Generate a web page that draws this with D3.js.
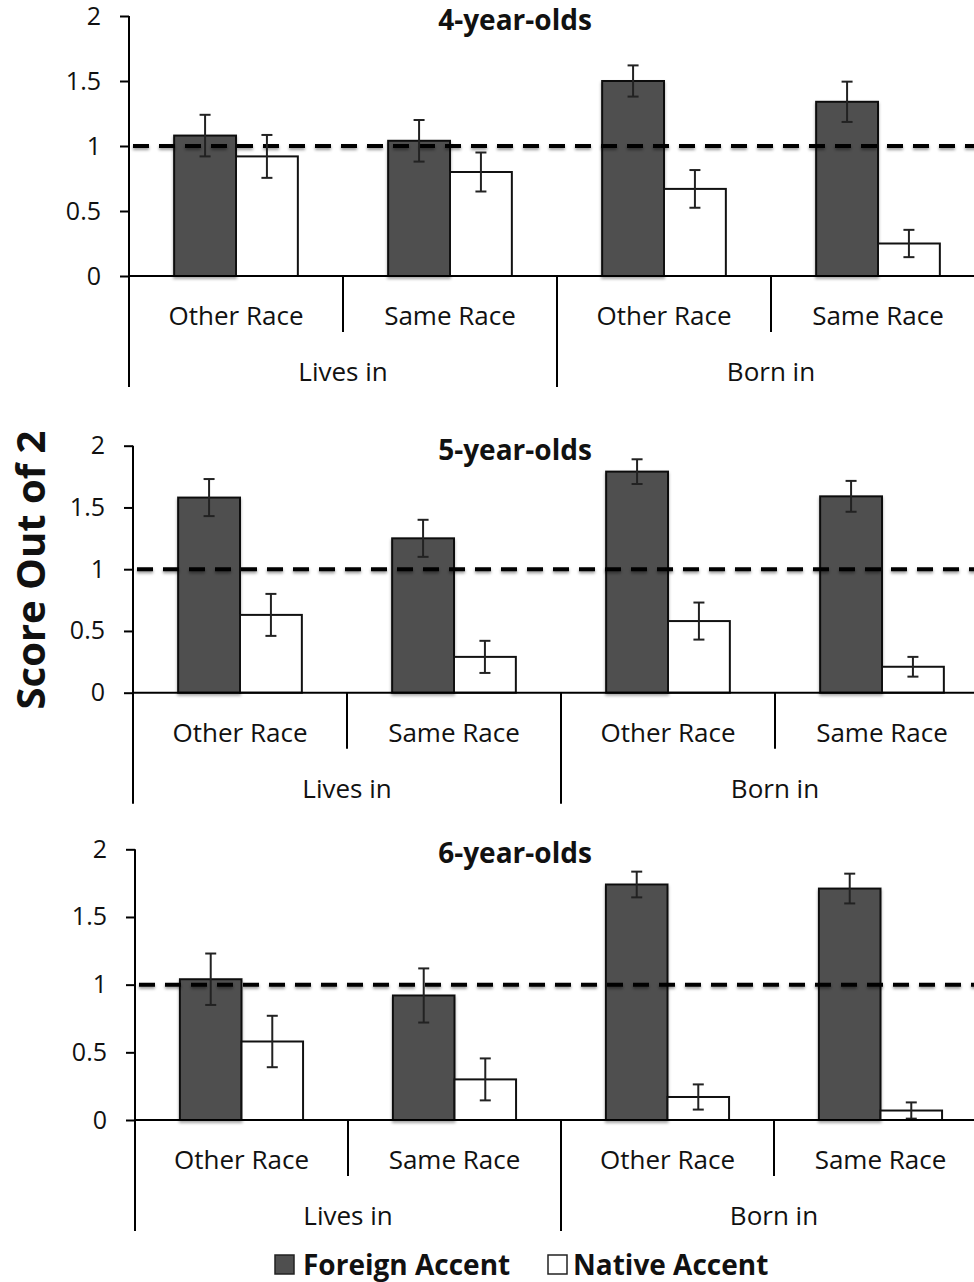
<!DOCTYPE html>
<html>
<head>
<meta charset="utf-8">
<script src="https://cdnjs.cloudflare.com/ajax/libs/d3/7.8.5/d3.min.js"></script>
<style>
  body { margin: 0; background: #fff; }
  svg { display: block; }
</style>
</head>
<body>
<div id="chart"></div>
<script>
// categories and labels
const categories = ["Other Race", "Same Race", "Other Race", "Same Race"];
const groups = ["Lives in", "Born in"];
const ageTitles = ["4-year-olds", "5-year-olds", "6-year-olds"];
const series = ["Foreign Accent", "Native Accent"];
const yTicks = [0, 0.5, 1, 1.5, 2];
const chance = 1;

// values (mean, +/- error)
const foreign4 = [1.08, 1.04, 1.50, 1.34];
const foreignErr4 = [0.16, 0.16, 0.12, 0.155];
const native4 = [0.92, 0.80, 0.67, 0.25];
const nativeErr4 = [0.165, 0.15, 0.145, 0.105];

const foreign5 = [1.58, 1.25, 1.79, 1.59];
const foreignErr5 = [0.15, 0.15, 0.10, 0.125];
const native5 = [0.63, 0.29, 0.58, 0.21];
const nativeErr5 = [0.17, 0.13, 0.15, 0.08];

const foreign6 = [1.04, 0.92, 1.74, 1.71];
const foreignErr6 = [0.19, 0.20, 0.095, 0.11];
const native6 = [0.58, 0.30, 0.17, 0.07];
const nativeErr6 = [0.19, 0.155, 0.093, 0.06];

const W = 974, H = 1282;
const fillColor = {"Foreign Accent": "#4f4f4f", "Native Accent": "#ffffff"};
const font = "'Open Sans', 'Noto Sans', sans-serif";

// panel placement (layout only)
const panels = [
  {x: 129, y0: 276, y2: 16, step: 214, foreign: foreign4, fErr: foreignErr4, native: native4, nErr: nativeErr4},
  {x: 133, y0: 692.7, y2: 445.7, step: 214, foreign: foreign5, fErr: foreignErr5, native: native5, nErr: nativeErr5},
  {x: 135, y0: 1120, y2: 849.3, step: 213, foreign: foreign6, fErr: foreignErr6, native: native6, nErr: nativeErr6}
];

const svg = d3.select("#chart").append("svg")
  .attr("width", W)
  .attr("height", H)
  .style("font-family", font);

const defs = svg.append("defs");
const shadow = defs.append("filter").attr("id", "shadow")
  .attr("x", "-10%").attr("y", "-10%").attr("width", "130%").attr("height", "130%");
shadow.append("feDropShadow")
  .attr("dx", 0).attr("dy", 2).attr("stdDeviation", 1.8)
  .attr("flood-color", "#000").attr("flood-opacity", 0.35);

// line has a zero-height box, so its filter works in user space
const lineShadow = defs.append("filter").attr("id", "lineShadow")
  .attr("filterUnits", "userSpaceOnUse")
  .attr("x", 0).attr("y", 0).attr("width", W + 20).attr("height", H);
lineShadow.append("feDropShadow")
  .attr("dx", 0).attr("dy", 2).attr("stdDeviation", 1.8)
  .attr("flood-color", "#000").attr("flood-opacity", 0.4);

panels.forEach(function(p, pi) {
  const g = svg.append("g");

  const x = d3.scaleBand()
    .domain(d3.range(categories.length))
    .range([p.x, p.x + p.step * categories.length])
    .paddingInner(0).paddingOuter(0);

  const xs = d3.scaleBand()
    .domain(series)
    .range([0, x.bandwidth()])
    .paddingInner(0)
    .paddingOuter(0.73);

  const y = d3.scaleLinear().domain([0, 2]).range([p.y0, p.y2]);

  const rows = [];
  categories.forEach(function(c, i) {
    rows.push({i: i, s: series[0], v: p.foreign[i], e: p.fErr[i]});
    rows.push({i: i, s: series[1], v: p.native[i], e: p.nErr[i]});
  });

  // bars
  g.selectAll("rect.bar")
    .data(rows)
    .enter()
    .append("rect")
    .attr("class", "bar")
    .attr("x", d => x(d.i) + xs(d.s))
    .attr("y", d => y(d.v))
    .attr("width", xs.bandwidth())
    .attr("height", d => y(0) - y(d.v))
    .attr("fill", d => fillColor[d.s])
    .attr("stroke", "#111")
    .attr("stroke-width", 2)
    .attr("filter", d => d.s === series[0] ? "url(#shadow)" : null);

  // chance line
  g.append("line")
    .attr("x1", p.x + 4)
    .attr("x2", W + 10)
    .attr("y1", y(chance))
    .attr("y2", y(chance))
    .attr("stroke", "#000")
    .attr("stroke-width", 4)
    .attr("stroke-dasharray", "16,10")
    .attr("filter", "url(#lineShadow)");

  // error bars
  const eb = g.selectAll("g.err")
    .data(rows)
    .enter()
    .append("g")
    .attr("class", "err")
    .attr("stroke", "#222")
    .attr("stroke-width", 2);
  eb.append("line")
    .attr("x1", d => x(d.i) + xs(d.s) + xs.bandwidth() / 2)
    .attr("x2", d => x(d.i) + xs(d.s) + xs.bandwidth() / 2)
    .attr("y1", d => y(d.v + d.e))
    .attr("y2", d => y(d.v - d.e));
  [1, -1].forEach(function(sign) {
    eb.append("line")
      .attr("x1", d => x(d.i) + xs(d.s) + xs.bandwidth() / 2 - 5.5)
      .attr("x2", d => x(d.i) + xs(d.s) + xs.bandwidth() / 2 + 5.5)
      .attr("y1", d => y(d.v + sign * d.e))
      .attr("y2", d => y(d.v + sign * d.e));
  });

  // baseline
  g.append("line")
    .attr("x1", p.x).attr("x2", W + 10)
    .attr("y1", y(0)).attr("y2", y(0))
    .attr("stroke", "#000").attr("stroke-width", 2);

  // y axis
  const yAxis = d3.axisLeft(y)
    .tickValues(yTicks)
    .tickFormat(d => String(d))
    .tickSize(9)
    .tickSizeOuter(0)
    .tickPadding(19);
  const ya = g.append("g")
    .attr("transform", "translate(" + p.x + ",0)")
    .call(yAxis);
  ya.select(".domain").remove();
  ya.selectAll(".tick line").attr("stroke", "#000").attr("stroke-width", 2);
  ya.selectAll(".tick text")
    .attr("font-size", 25)
    .attr("font-family", font)
    .attr("fill", "#111");

  // axis line + category separators
  g.append("line")
    .attr("x1", p.x).attr("x2", p.x)
    .attr("y1", y(2)).attr("y2", y(0) + 111)
    .attr("stroke", "#000").attr("stroke-width", 2);
  d3.range(1, categories.length + 1).forEach(function(k) {
    const sx = p.x + p.step * k;
    g.append("line")
      .attr("x1", sx).attr("x2", sx)
      .attr("y1", y(0)).attr("y2", y(0) + (k % 2 === 0 ? 111 : 56))
      .attr("stroke", "#000").attr("stroke-width", 2);
  });

  // category labels
  g.selectAll("text.cat")
    .data(categories)
    .enter()
    .append("text")
    .attr("class", "cat")
    .attr("x", (d, i) => x(i) + x.bandwidth() / 2)
    .attr("y", y(0) + 49)
    .attr("text-anchor", "middle")
    .attr("font-size", 26)
    .attr("fill", "#111")
    .text(d => d);

  g.selectAll("text.grp")
    .data(groups)
    .enter()
    .append("text")
    .attr("class", "grp")
    .attr("x", (d, i) => x(i * 2) + x.bandwidth())
    .attr("y", y(0) + 105)
    .attr("text-anchor", "middle")
    .attr("font-size", 26)
    .attr("fill", "#111")
    .text(d => d);

  // title
  g.append("text")
    .attr("x", 515)
    .attr("y", y(2) + 14)
    .attr("text-anchor", "middle")
    .attr("font-size", 28)
    .attr("font-weight", "bold")
    .attr("fill", "#111")
    .text(ageTitles[pi]);
});

// y label
svg.append("text")
  .attr("transform", "translate(45,570) rotate(-90)")
  .attr("text-anchor", "middle")
  .attr("font-size", 40)
  .attr("font-weight", "bold")
  .attr("fill", "#111")
  .text("Score Out of 2");

// legend
const legendBoxX = [275, 548];
const legendTextX = [303, 573];
const lg = svg.selectAll("g.legend")
  .data(series)
  .enter()
  .append("g")
  .attr("class", "legend");
lg.append("rect")
  .attr("x", (d, i) => legendBoxX[i])
  .attr("y", 1255)
  .attr("width", 19).attr("height", 19)
  .attr("fill", d => fillColor[d])
  .attr("stroke", "#222").attr("stroke-width", 1.5);
lg.append("text")
  .attr("x", (d, i) => legendTextX[i])
  .attr("y", 1275)
  .attr("font-size", 28)
  .attr("font-weight", "bold")
  .attr("fill", "#111")
  .text(d => d);
</script>
</body>
</html>
